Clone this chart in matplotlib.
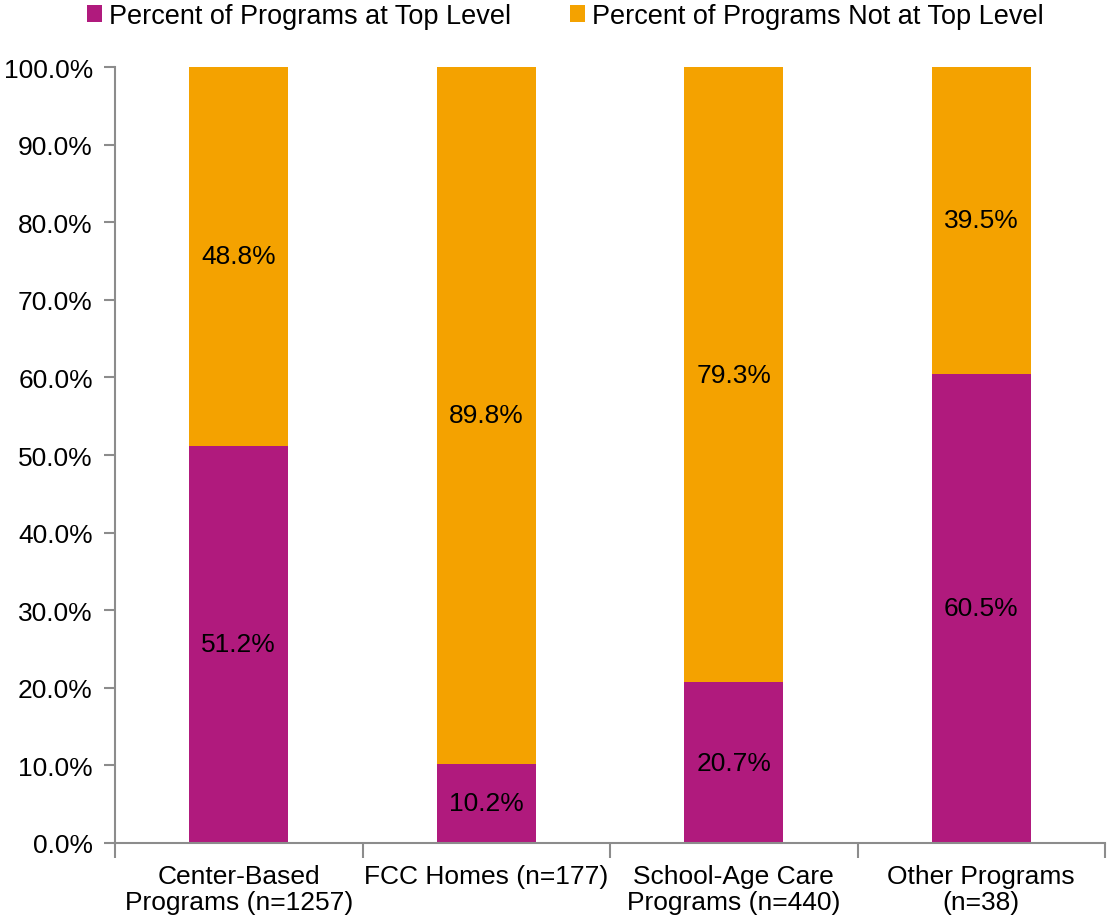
import matplotlib
matplotlib.use('Agg')
import matplotlib.pyplot as plt
import numpy as np

plt.rcParams['font.family'] = ['Liberation Sans', 'DejaVu Sans']

categories = ['Center-Based\nPrograms (n=1257)', 'FCC Homes (n=177)',
              'School-Age Care\nPrograms (n=440)', 'Other Programs\n(n=38)']
top_level = [51.2, 10.2, 20.7, 60.5]
not_top = [48.8, 89.8, 79.3, 39.5]
series_names = ['Percent of Programs at Top Level', 'Percent of Programs Not at Top Level']

c_top = '#B01A7D'
c_not = '#F4A200'
grey = '#8C8C8C'
fs = 19

fig = plt.figure(figsize=(11.07, 9.2), dpi=100)
ax = fig.add_axes([115/1107, 1-844/920, 990/1107, 776/920])

x = np.arange(len(categories))
ax.bar(x, top_level, 0.4, color=c_top, label=series_names[0])
ax.bar(x, not_top, 0.4, bottom=top_level, color=c_not, label=series_names[1])

for i in range(len(x)):
    ax.text(x[i], top_level[i]/2, '%.1f%%' % top_level[i], ha='center', va='center', fontsize=fs)
    ax.text(x[i], top_level[i] + not_top[i]/2, '%.1f%%' % not_top[i], ha='center', va='center', fontsize=fs)

ax.set_xlim(-0.5, len(x) - 0.5)
ax.set_ylim(0, 100)
ax.set_yticks(np.arange(0, 101, 10))
ax.set_yticklabels(['%.1f%%' % v for v in np.arange(0, 101, 10)], fontsize=fs)
ax.set_xticks(x)
ax.set_xticklabels(categories, fontsize=fs, linespacing=1.1)
ax.tick_params(axis='x', length=0, pad=15)
ax.set_xticks(np.arange(-0.5, len(x), 1), minor=True)
ax.tick_params(axis='x', which='minor', length=11, width=1.5, color=grey, direction='out')
ax.tick_params(axis='y', length=8, width=1.5, color=grey, pad=8)

for s in ['top', 'right']:
    ax.spines[s].set_visible(False)
for s in ['left', 'bottom']:
    ax.spines[s].set_color(grey)
    ax.spines[s].set_linewidth(1.5)

ax.legend(loc='lower center', bbox_to_anchor=(0.455, 1.035), ncol=2, frameon=False, fontsize=19.5,
          handlelength=0.55, handleheight=0.55, handletextpad=0.25, columnspacing=2.2, borderaxespad=0)

fig.savefig('out.png', dpi=100)
